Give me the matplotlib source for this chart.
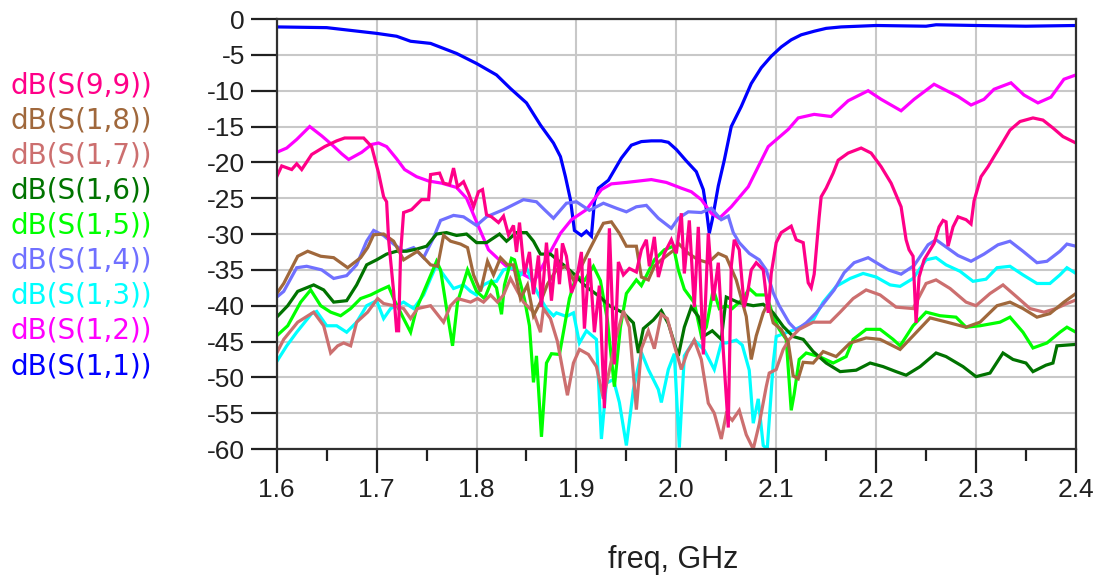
import matplotlib
matplotlib.use("Agg")
import matplotlib.pyplot as plt
from matplotlib import font_manager
from matplotlib.ticker import MultipleLocator

# ------------- Data -------------
f_s11 = [1.60, 1.65, 1.70, 1.72, 1.734, 1.754, 1.78, 1.80, 1.82, 1.834, 1.85, 1.864,
         1.877, 1.884, 1.889, 1.894, 1.898, 1.905, 1.91, 1.915, 1.918, 1.922, 1.932,
         1.945, 1.955, 1.965, 1.975, 1.985, 1.992, 2.0, 2.01, 2.02, 2.027, 2.03, 2.033,
         2.036, 2.042, 2.048, 2.055, 2.065, 2.075, 2.085, 2.095, 2.105, 2.115, 2.125,
         2.138, 2.15, 2.165, 2.2, 2.25, 2.26, 2.3, 2.35, 2.4]
db_s11 = [-1.1, -1.2, -2.0, -2.4, -3.1, -3.4, -4.8, -6.2, -7.8, -9.7, -11.7, -14.8,
          -17.3, -19.2, -22.0, -25.2, -29.5, -30.2, -29.6, -30.3, -25.5, -23.6, -22.5,
          -19.4, -17.6, -17.1, -17.0, -17.0, -17.2, -18.2, -19.8, -21.3, -23.8, -26.5, -29.9,
          -28.0, -23.3, -19.7, -15.0, -12.2, -9.0, -6.8, -5.2, -3.9, -2.9, -2.2,
          -1.7, -1.3, -1.1, -0.9, -1.0, -0.8, -0.9, -1.0, -0.9]

f_s12 = [1.60, 1.61, 1.62, 1.633, 1.645, 1.655, 1.665, 1.672, 1.685, 1.695, 1.702, 1.71,
         1.72, 1.728, 1.74, 1.752, 1.765, 1.78, 1.79, 1.80, 1.812, 1.822, 1.83, 1.845,
         1.858, 1.866, 1.875, 1.884, 1.895, 1.91, 1.925, 1.935, 1.95, 1.975, 1.99, 2.005,
         2.015, 2.025, 2.035, 2.043, 2.055, 2.072, 2.092, 2.112, 2.122, 2.138, 2.155,
         2.172, 2.192, 2.205, 2.225, 2.238, 2.258, 2.282, 2.295, 2.308, 2.318, 2.335,
         2.348, 2.362, 2.375, 2.388, 2.4]
db_s12 = [-18.6, -18.0, -16.8, -15.0, -16.3, -17.5, -18.8, -19.6, -18.6, -17.5, -17.3, -17.8,
          -19.5, -21.0, -22.0, -22.6, -22.9, -23.5, -25.0, -28.3, -32.2, -33.5, -34.5, -35.5,
          -36.5, -34.5, -32.2, -29.9, -28.0, -26.6, -23.8, -23.0, -22.8, -22.4, -22.8, -23.6,
          -24.1, -25.2, -27.1, -27.8, -26.2, -23.4, -17.8, -15.4, -13.8, -13.3, -13.6,
          -11.4, -10.0, -11.2, -12.8, -11.2, -9.1, -10.8, -12.0, -11.2, -9.8, -8.9,
          -10.6, -11.7, -10.9, -8.4, -7.8]

f_s13 = [1.60, 1.61, 1.62, 1.635, 1.64, 1.65, 1.66, 1.67, 1.68, 1.69, 1.70, 1.707,
         1.714, 1.727, 1.737, 1.747, 1.754, 1.76, 1.767, 1.777, 1.787, 1.794, 1.80, 1.807,
         1.814, 1.82, 1.827, 1.837, 1.844, 1.85, 1.857, 1.864, 1.87, 1.877, 1.88, 1.89,
         1.897, 1.903, 1.91, 1.92, 1.925, 1.93, 1.937, 1.943, 1.95, 1.957, 1.965, 1.972,
         1.982, 1.985, 1.992, 1.998, 2.003, 2.008, 2.018, 2.028, 2.038, 2.045, 2.05,
         2.06, 2.066, 2.073, 2.077, 2.082, 2.087, 2.091, 2.097, 2.10, 2.117, 2.127, 2.137,
         2.147, 2.16, 2.174, 2.187, 2.20, 2.214, 2.224, 2.237, 2.25, 2.26, 2.27, 2.284,
         2.297, 2.31, 2.321, 2.334, 2.347, 2.361, 2.374, 2.384, 2.391, 2.4]
db_s13 = [-47.8, -45.6, -43.7, -41.1, -40.8, -42.8, -42.8, -43.7, -42.3, -40.0, -39.3, -41.8,
          -40.4, -39.5, -40.4, -38.5, -36.2, -34.3, -35.7, -37.6, -37.1, -38.0, -38.5, -37.1,
          -36.6, -36.6, -35.0, -34.7, -35.7, -34.7, -37.1, -39.0, -40.4, -41.4, -41.0, -41.5,
          -41.0, -45.2, -43.5, -44.7, -58.6, -50.8, -50.3, -53.5, -59.5, -51.7, -46.5, -48.9,
          -51.7, -53.5, -48.9, -46.7, -59.8, -47.0, -44.8, -46.2, -48.9, -45.2, -45.2,
          -44.8, -45.5, -49.0, -56.4, -53.0, -59.5, -60.0, -48.0, -44.3, -43.4, -42.8, -42.0,
          -39.5, -37.3, -36.2, -35.5, -36.0, -37.1, -37.3, -36.2, -33.6, -33.3, -34.3, -35.2,
          -36.6, -36.3, -34.7, -34.5, -35.7, -36.9, -36.9, -35.7, -34.7, -35.5]

f_s14 = [1.60, 1.607, 1.62, 1.63, 1.645, 1.657, 1.67, 1.68, 1.69, 1.697, 1.707, 1.717,
         1.727, 1.737, 1.747, 1.757, 1.764, 1.777, 1.787, 1.80, 1.81, 1.827, 1.847, 1.86,
         1.868, 1.877, 1.89, 1.90, 1.913, 1.927, 1.94, 1.95, 1.96, 1.97, 1.982, 1.995,
         2.002, 2.012, 2.025, 2.035, 2.045, 2.052, 2.057, 2.063, 2.073, 2.083, 2.09, 2.097,
         2.103, 2.113, 2.12, 2.13, 2.14, 2.158, 2.168, 2.178, 2.192, 2.212, 2.225, 2.238,
         2.252, 2.26, 2.268, 2.282, 2.295, 2.308, 2.322, 2.334, 2.347, 2.361, 2.371, 2.384,
         2.391, 2.4]
db_s14 = [-38.8, -38.0, -34.7, -34.5, -35.0, -36.2, -35.8, -34.3, -31.0, -29.5, -30.2, -31.4,
          -32.4, -31.9, -33.3, -30.5, -28.1, -27.4, -27.6, -28.8, -27.6, -26.6, -25.2, -25.5,
          -26.6, -27.8, -25.7, -25.5, -26.7, -25.7, -26.4, -26.9, -26.2, -26.0, -27.8, -29.2,
          -27.8, -26.9, -27.0, -26.4, -28.0, -27.5, -29.8, -31.2, -32.7, -33.6, -35.0, -38.2,
          -40.0, -42.4, -43.4, -42.4, -41.0, -37.8, -35.4, -34.0, -33.3, -35.0, -35.6, -34.4,
          -31.5, -30.8, -31.6, -33.0, -33.8, -32.8, -31.5, -31.0, -32.4, -34.0, -33.8, -32.4,
          -31.4, -31.7]

f_s15 = [1.60, 1.611, 1.624, 1.634, 1.644, 1.654, 1.664, 1.674, 1.684, 1.694, 1.704, 1.712,
         1.717, 1.727, 1.734, 1.74, 1.75, 1.76, 1.764, 1.77, 1.776, 1.781, 1.791, 1.80,
         1.808, 1.815, 1.82, 1.825, 1.828, 1.835, 1.838, 1.848, 1.853, 1.857, 1.86, 1.865,
         1.87, 1.875, 1.883, 1.893, 1.90, 1.908, 1.917, 1.924, 1.931, 1.938, 1.944, 1.95,
         1.96, 1.965, 1.978, 1.988, 1.997, 2.002, 2.008, 2.018, 2.025, 2.03, 2.037, 2.043,
         2.05, 2.056, 2.067, 2.073, 2.08, 2.09, 2.097, 2.103, 2.11, 2.115, 2.118, 2.123,
         2.13, 2.143, 2.157, 2.17, 2.177, 2.19, 2.204, 2.217, 2.224, 2.237, 2.25, 2.264,
         2.28, 2.29, 2.304, 2.324, 2.334, 2.347, 2.357, 2.371, 2.384, 2.391, 2.4]
db_s15 = [-44.2, -42.8, -39.5, -37.8, -40.0, -40.9, -41.4, -40.4, -39.0, -38.5, -37.8, -37.3,
          -39.0, -41.8, -43.7, -40.4, -37.1, -33.8, -35.0, -40.4, -45.6, -39.5, -35.0, -38.0,
          -39.0, -36.6, -37.5, -41.2, -37.1, -33.4, -33.6, -39.1, -42.8, -50.7, -47.0, -58.3,
          -48.0, -46.7, -46.8, -39.0, -35.8, -36.5, -34.5, -36.5, -42.0, -51.3, -43.0, -38.3,
          -36.4, -37.2, -33.6, -32.2, -31.7, -35.0, -37.7, -39.6, -44.2, -43.0, -37.7, -40.4,
          -40.0, -40.4, -39.0, -37.6, -38.5, -38.5, -41.4, -43.3, -44.7, -54.6, -52.3, -47.5,
          -46.6, -47.1, -48.0, -47.1, -44.7, -43.3, -43.3, -44.7, -45.6, -42.8, -40.9, -41.4,
          -41.6, -43.0, -42.8, -42.3, -41.6, -43.7, -45.9, -45.2, -43.7, -43.0, -43.7]

f_s16 = [1.60, 1.611, 1.621, 1.637, 1.647, 1.657, 1.67, 1.68, 1.69, 1.70, 1.71, 1.72,
         1.73, 1.74, 1.75, 1.76, 1.77, 1.78, 1.79, 1.80, 1.81, 1.823, 1.83, 1.84,
         1.85, 1.857, 1.864, 1.874, 1.887, 1.897, 1.907, 1.913, 1.923, 1.933, 1.947, 1.957,
         1.962, 1.967, 1.977, 1.985, 1.992, 2.002, 2.008, 2.015, 2.022, 2.028, 2.036, 2.045,
         2.05, 2.063, 2.077, 2.087, 2.097, 2.107, 2.117, 2.127, 2.137, 2.15, 2.164, 2.18,
         2.194, 2.207, 2.22, 2.23, 2.244, 2.26, 2.27, 2.287, 2.30, 2.314, 2.327, 2.337,
         2.35, 2.357, 2.37, 2.377, 2.381, 2.4]
db_s16 = [-41.6, -40.0, -38.0, -37.1, -37.8, -39.5, -39.3, -37.1, -34.3, -33.6, -32.8, -32.4,
          -32.4, -32.1, -31.7, -30.0, -29.8, -30.2, -30.0, -31.2, -31.2, -30.0, -31.0, -29.8,
          -29.8, -31.0, -32.8, -32.8, -34.3, -35.5, -37.0, -37.7, -38.7, -40.0, -41.0, -42.4,
          -46.6, -43.2, -42.0, -40.7, -42.5, -47.0, -43.0, -40.2, -41.5, -44.2, -43.5, -44.7,
          -38.8, -39.6, -40.0, -39.8, -41.0, -42.9, -44.3, -44.7, -46.4, -48.0, -49.2, -49.0,
          -48.0, -48.5, -49.2, -49.7, -48.5, -46.6, -47.1, -48.5, -49.9, -49.4, -46.6, -47.5,
          -48.0, -49.2, -48.3, -48.0, -45.6, -45.4]

f_s17 = [1.60, 1.607, 1.621, 1.637, 1.647, 1.654, 1.661, 1.667, 1.674, 1.68, 1.691, 1.701,
         1.707, 1.717, 1.727, 1.734, 1.741, 1.754, 1.767, 1.774, 1.781, 1.794, 1.801, 1.807,
         1.814, 1.821, 1.827, 1.834, 1.841, 1.847, 1.857, 1.864, 1.867, 1.874, 1.881, 1.887,
         1.891, 1.897, 1.903, 1.912, 1.92, 1.927, 1.933, 1.94, 1.947, 1.953, 1.96, 1.965,
         1.972, 1.978, 1.985, 1.991, 1.998, 2.005, 2.011, 2.018, 2.025, 2.032, 2.038, 2.045,
         2.05, 2.056, 2.063, 2.07, 2.077, 2.083, 2.09, 2.093, 2.10, 2.107, 2.113, 2.123,
         2.137, 2.154, 2.164, 2.177, 2.19, 2.204, 2.22, 2.237, 2.25, 2.26, 2.274, 2.29,
         2.30, 2.314, 2.327, 2.341, 2.354, 2.368, 2.38, 2.391, 2.4]
db_s17 = [-46.6, -44.7, -42.3, -40.9, -42.8, -46.6, -45.6, -45.2, -45.6, -42.3, -40.9, -39.0,
          -39.7, -40.0, -40.4, -41.8, -40.4, -40.0, -42.3, -40.0, -39.0, -39.5, -39.0, -39.5,
          -38.5, -39.5, -38.5, -36.2, -38.0, -39.5, -40.9, -43.7, -40.4, -41.8, -45.0, -49.5,
          -52.5, -48.0, -46.1, -46.8, -48.5, -53.0, -49.0, -44.3, -40.7, -43.0, -54.5, -46.0,
          -43.5, -46.0, -41.2, -41.8, -45.5, -48.9, -46.5, -44.8, -47.5, -53.6, -55.0, -58.6,
          -55.1, -56.0, -54.6, -58.0, -60.0, -56.5, -51.3, -49.4, -48.9, -46.1, -44.7, -43.3,
          -42.3, -42.3, -40.9, -39.0, -37.8, -38.5, -40.2, -40.4, -36.9, -36.4, -37.6, -39.5,
          -40.0, -38.3, -37.1, -38.8, -40.4, -40.9, -40.4, -39.7, -39.2]

f_s18 = [1.60, 1.607, 1.621, 1.631, 1.644, 1.657, 1.671, 1.684, 1.691, 1.697, 1.707, 1.717,
         1.727, 1.741, 1.754, 1.761, 1.767, 1.774, 1.784, 1.791, 1.797, 1.804, 1.811, 1.817,
         1.824, 1.831, 1.837, 1.844, 1.851, 1.857, 1.864, 1.871, 1.88, 1.89, 1.897, 1.905,
         1.913, 1.92, 1.927, 1.935, 1.943, 1.95, 1.96, 1.965, 1.972, 1.978, 1.985, 1.998,
         2.002, 2.012, 2.022, 2.032, 2.042, 2.05, 2.06, 2.07, 2.075, 2.08, 2.087, 2.092,
         2.097, 2.105, 2.112, 2.117, 2.122, 2.127, 2.137, 2.147, 2.16, 2.174, 2.19, 2.204,
         2.224, 2.237, 2.254, 2.271, 2.29, 2.304, 2.321, 2.334, 2.347, 2.361, 2.374, 2.388,
         2.4]
db_s18 = [-38.3, -36.9, -33.1, -32.4, -33.1, -33.3, -34.7, -33.3, -31.9, -30.1, -30.0, -31.0,
          -33.6, -32.4, -34.3, -34.5, -30.2, -31.0, -31.4, -31.9, -35.7, -38.0, -33.8, -35.7,
          -33.3, -34.3, -34.3, -39.0, -37.1, -41.4, -39.5, -37.0, -35.0, -34.5, -36.4, -34.5,
          -32.2, -30.3, -28.5, -28.3, -29.9, -31.7, -31.7, -36.0, -36.4, -34.5, -33.6, -32.2,
          -31.3, -32.7, -33.6, -34.0, -32.7, -33.2, -36.4, -41.5, -47.5, -44.2, -41.0, -39.6,
          -42.4, -43.3, -45.1, -49.8, -50.2, -47.9, -48.0, -46.4, -47.1, -45.2, -44.5, -44.7,
          -46.1, -44.2, -41.7, -42.3, -43.0, -42.3, -40.0, -39.5, -40.4, -41.6, -41.1, -39.5,
          -38.3]

f_s99 = [1.60, 1.605, 1.615, 1.62, 1.625, 1.635, 1.648, 1.66, 1.668, 1.687, 1.695, 1.702,
         1.707, 1.71, 1.712, 1.717, 1.72, 1.722, 1.724, 1.727, 1.735, 1.745, 1.752, 1.754,
         1.763, 1.767, 1.773, 1.777, 1.781, 1.787, 1.792, 1.797, 1.802, 1.806, 1.81, 1.815,
         1.822, 1.827, 1.832, 1.837, 1.84, 1.843, 1.848, 1.853, 1.857, 1.862, 1.865, 1.87,
         1.875, 1.88, 1.883, 1.886, 1.89, 1.895, 1.90, 1.905, 1.908, 1.913, 1.918, 1.923,
         1.928, 1.933, 1.938, 1.942, 1.947, 1.953, 1.96, 1.965, 1.97, 1.973, 1.978, 1.982,
         1.988, 1.995, 2.0, 2.005, 2.008, 2.013, 2.018, 2.022, 2.027, 2.032, 2.037, 2.042,
         2.047, 2.052, 2.055, 2.058, 2.063, 2.068, 2.071, 2.075, 2.08, 2.087, 2.092, 2.095,
         2.10, 2.105, 2.115, 2.12, 2.127, 2.132, 2.135, 2.138, 2.143, 2.145, 2.15, 2.157,
         2.162, 2.172, 2.185, 2.195, 2.205, 2.215, 2.225, 2.23, 2.233, 2.237, 2.24, 2.243,
         2.248, 2.258, 2.263, 2.267, 2.27, 2.272, 2.277, 2.282, 2.29, 2.295, 2.298, 2.305,
         2.312, 2.318, 2.325, 2.334, 2.344, 2.357, 2.367, 2.377, 2.387, 2.4]
db_s99 = [-22.0, -20.5, -21.0, -20.2, -21.0, -18.9, -17.8, -17.0, -16.6, -16.6, -17.8, -21.5,
          -24.8, -25.5, -30.8, -38.0, -43.5, -43.5, -32.7, -27.0, -26.6, -25.2, -25.2, -21.7,
          -21.5, -22.9, -23.1, -20.8, -23.4, -22.7, -24.3, -26.2, -24.1, -23.8, -27.3, -27.6,
          -28.4, -27.5, -30.1, -28.8, -32.5, -28.4, -35.6, -32.5, -38.4, -33.0, -40.2, -31.2,
          -39.3, -32.0, -37.0, -31.3, -33.1, -38.2, -36.4, -32.5, -43.2, -33.4, -43.7, -37.2,
          -54.3, -29.2, -48.2, -33.9, -35.7, -34.8, -35.3, -32.2, -30.8, -34.5, -30.4, -36.0,
          -32.7, -30.8, -32.7, -27.1, -35.5, -28.1, -40.2, -29.0, -46.8, -29.9, -39.3, -34.0,
          -46.3, -57.0, -34.5, -30.8, -32.2, -40.2, -38.5, -35.0, -34.0, -35.0, -41.0, -35.5,
          -31.2, -29.8, -28.9, -30.8, -31.2, -36.8, -37.5, -35.6, -27.6, -24.8, -23.6, -21.5,
          -19.7, -18.7, -18.0, -18.7, -20.6, -22.9, -26.2, -30.8, -32.2, -33.1, -42.4, -36.0,
          -33.6, -31.3, -29.0, -28.1, -28.3, -31.7, -29.0, -27.6, -28.0, -28.6, -25.4, -22.0,
          -20.6, -19.2, -17.6, -15.5, -14.3, -13.8, -14.1, -15.2, -16.4, -17.3]

# legend order as shown (top to bottom) and trace colours
labels = ["dB(S(9,9))", "dB(S(1,8))", "dB(S(1,7))", "dB(S(1,6))", "dB(S(1,5))",
          "dB(S(1,4))", "dB(S(1,3))", "dB(S(1,2))", "dB(S(1,1))"]
colors = ["#FF0088", "#A0683C", "#CC6F6F", "#007300", "#00FF00",
          "#7070FF", "#00FFFF", "#FF00FF", "#0000FF"]
freqs = [f_s99, f_s18, f_s17, f_s16, f_s15, f_s14, f_s13, f_s12, f_s11]
traces = [db_s99, db_s18, db_s17, db_s16, db_s15, db_s14, db_s13, db_s12, db_s11]

x_ticks = [1.6, 1.7, 1.8, 1.9, 2.0, 2.1, 2.2, 2.3, 2.4]
x_ticklabels = ["1.6", "1.7", "1.8", "1.9", "2.0", "2.1", "2.2", "2.3", "2.4"]

# ------------- Fonts -------------
plt.rcParams["axes.unicode_minus"] = False   # plain hyphen like ADS
names = {f.name for f in font_manager.fontManager.ttflist}
if "Liberation Sans Narrow" in names:
    tick_font, tick_size = "Liberation Sans Narrow", 22
else:
    tick_font, tick_size = "Liberation Sans", 19

# ------------- Figure -------------
fig = plt.figure(figsize=(10.99, 5.77), dpi=100)
ax = fig.add_axes([0.2518, 0.2218, 0.979 - 0.2518, 0.967 - 0.2218])

# S(1,1) first, S(9,9) last (on top)
for fr, tr, c in zip(freqs[::-1], traces[::-1], colors[::-1]):
    ax.plot(fr, tr, color=c, lw=2.3, solid_joinstyle="miter")

ax.set_xlim(1.6, 2.4)
ax.set_ylim(-60, 0)
ax.set_xticks(x_ticks)
ax.set_xticklabels(x_ticklabels)
ax.xaxis.set_minor_locator(MultipleLocator(0.05))
ax.yaxis.set_major_locator(MultipleLocator(5))

ax.grid(True, which="major", color="#C8C8C8", lw=1.5)
ax.set_axisbelow(True)
for sp in ax.spines.values():
    sp.set_color("#303030")
    sp.set_linewidth(1.6)

ax.tick_params(axis="x", which="major", direction="out", length=17, width=1.6,
               pad=4, color="#202020")
ax.tick_params(axis="x", which="minor", direction="out", length=8.5, width=1.6,
               color="#202020")
ax.tick_params(axis="y", which="major", direction="out", length=19, width=1.6,
               pad=4, color="#202020")
for lab in ax.get_xticklabels() + ax.get_yticklabels():
    lab.set_fontfamily(tick_font)
    lab.set_fontsize(tick_size)
    lab.set_color("#202020")

fig.text(0.613, 0.029, "freq, GHz", ha="center", va="center",
         fontfamily="Liberation Sans", fontsize=22, color="#202020")

# colored legend text on the left
for i, (lab, c) in enumerate(zip(labels, colors)):
    y_px = 93.3 + 35.1 * i
    fig.text(10 / 1099, 1 - y_px / 577, lab, color=c, ha="left", va="baseline",
             fontfamily="DejaVu Sans", fontsize=20)

fig.savefig("out.png", dpi=100)
